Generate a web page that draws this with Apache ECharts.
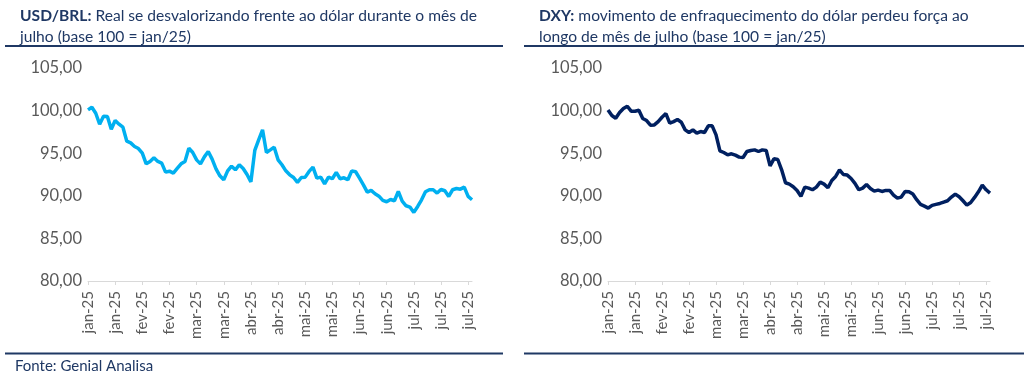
<!DOCTYPE html>
<html>
<head>
<meta charset="utf-8">
<script src="https://cdn.jsdelivr.net/npm/echarts@6/dist/echarts.min.js"></script>
<style>
    html, body { margin: 0; padding: 0; background: #fff; }
    #chart { width: 1024px; height: 376px; }
</style>
</head>
<body>
<div id="chart"></div>
<script>
// rótulos do eixo x (um a cada 7 pontos)
var tickLabels = ['jan-25', 'jan-25', 'fev-25', 'fev-25', 'mar-25', 'mar-25', 'abr-25', 'abr-25',
    'mai-25', 'mai-25', 'jun-25', 'jun-25', 'jul-25', 'jul-25', 'jul-25'];

// USD/BRL base 100 = jan/25
var usdBrl = [100.08, 100.39, 99.69, 98.40, 99.34, 99.30, 97.82, 98.83, 98.40, 98.05,
    96.41, 96.21, 95.79, 95.55, 95.00, 93.75, 94.03, 94.46, 94.03, 93.83,
    92.78, 92.89, 92.66, 93.21, 93.75, 94.03, 95.59, 95.08, 94.22, 93.75,
    94.57, 95.20, 94.30, 93.17, 92.35, 91.88, 92.93, 93.48, 93.05, 93.64,
    93.21, 92.50, 91.64, 95.32, 96.57, 97.74, 95.08, 95.39, 95.71, 94.22,
    93.64, 92.93, 92.46, 92.15, 91.57, 92.15, 92.19, 92.86, 93.36, 92.07,
    92.19, 91.41, 92.19, 92.00, 92.74, 92.00, 92.11, 91.88, 92.93, 92.82,
    92.07, 91.29, 90.43, 90.63, 90.24, 89.96, 89.46, 89.30, 89.57, 89.42,
    90.51, 89.38, 88.83, 88.68, 88.05, 88.75, 89.53, 90.47, 90.71, 90.71,
    90.32, 90.74, 90.59, 89.93, 90.71, 90.86, 90.78, 91.02, 89.93, 89.54];

// DXY base 100 = jan/25
var dxy = [100.08, 99.42, 99.11, 99.77, 100.24, 100.51, 99.93, 99.93, 100.04, 99.07,
    98.83, 98.29, 98.32, 98.71, 99.22, 99.65, 98.52, 98.71, 98.95, 98.64,
    97.74, 97.43, 97.74, 97.35, 97.54, 97.43, 98.21, 98.21, 97.15, 95.28,
    95.08, 94.81, 94.93, 94.77, 94.54, 94.50, 95.20, 95.32, 95.39, 95.20,
    95.39, 95.32, 93.52, 94.34, 94.26, 93.05, 91.53, 91.37, 91.06, 90.63,
    89.93, 91.02, 90.90, 90.71, 91.02, 91.60, 91.37, 90.94, 91.80, 92.27,
    93.05, 92.50, 92.43, 92.03, 91.45, 90.71, 90.90, 91.33, 90.86, 90.55,
    90.67, 90.51, 90.63, 90.63, 90.08, 89.73, 89.85, 90.51, 90.47, 90.20,
    89.54, 88.99, 88.79, 88.56, 88.87, 88.99, 89.10, 89.26, 89.42, 89.85,
    90.20, 89.89, 89.42, 88.91, 89.22, 89.81, 90.47, 91.25, 90.71, 90.32];

var navy = '#1F3864';
var fontName = 'Lato';

// categorias: só os pontos de tick recebem rótulo
var categories = [];
for (var i = 0; i < usdBrl.length; i++) {
    categories.push(i % 7 === 0 ? tickLabels[i / 7] : '');
}

function xAxisOf(gridIndex) {
    return {
        type : 'category',
        gridIndex : gridIndex,
        data : categories,
        boundaryGap : false,
        axisLine : { lineStyle : { color : '#d9d9d9', width : 1 } },
        axisTick : { interval : 6, length : 4, lineStyle : { color : '#d9d9d9' } },
        axisLabel : {
            interval : 6,
            rotate : 90,
            margin : 10,
            color : '#595959',
            fontSize : 15,
            fontFamily : fontName
        }
    };
}

function yAxisOf(gridIndex) {
    return {
        type : 'value',
        gridIndex : gridIndex,
        min : 80,
        max : 105,
        interval : 5,
        splitLine : { show : false },
        axisLine : { show : false },
        axisTick : { show : false },
        axisLabel : {
            margin : 6,
            color : '#595959',
            fontSize : 16.5,
            fontFamily : fontName,
            formatter : function(v) {
                return v.toFixed(2).replace('.', ',');
            }
        }
    };
}

var titleStyle = {
    color : navy,
    fontSize : 15.6,
    fontWeight : 'normal',
    fontFamily : fontName,
    lineHeight : 21,
    rich : {
        b : { fontWeight : 'bold', color : navy, fontSize : 15.6, fontFamily : fontName, lineHeight : 21 }
    }
};

var chart = echarts.init(document.getElementById('chart'));
chart.setOption({
    animation : false,
    title : [ {
        left : 15,
        top : 0,
        padding : 5,
        text : '{b|USD/BRL:} Real se desvalorizando frente ao dólar durante o mês de\njulho (base 100 = jan/25)',
        textStyle : titleStyle
    }, {
        left : 534,
        top : 0,
        padding : 5,
        text : '{b|DXY:} movimento de enfraquecimento do dólar perdeu força ao\nlongo de mês de julho (base 100 = jan/25)',
        textStyle : titleStyle
    } ],
    grid : [
        { left : 88, width : 384, top : 68, height : 213 },
        { left : 608, width : 382, top : 68, height : 213 }
    ],
    xAxis : [ xAxisOf(0), xAxisOf(1) ],
    yAxis : [ yAxisOf(0), yAxisOf(1) ],
    series : [ {
        name : 'USD/BRL',
        type : 'line',
        xAxisIndex : 0,
        yAxisIndex : 0,
        data : usdBrl,
        showSymbol : false,
        lineStyle : { color : '#00B0F0', width : 3.5 }
    }, {
        name : 'DXY',
        type : 'line',
        xAxisIndex : 1,
        yAxisIndex : 1,
        data : dxy,
        showSymbol : false,
        lineStyle : { color : '#002060', width : 3.5 }
    } ],
    graphic : [
        { type : 'line', shape : { x1 : 5, y1 : 46, x2 : 503, y2 : 46 }, style : { stroke : navy, lineWidth : 2 } },
        { type : 'line', shape : { x1 : 524, y1 : 46, x2 : 1024, y2 : 46 }, style : { stroke : navy, lineWidth : 2 } },
        { type : 'line', shape : { x1 : 5, y1 : 353.5, x2 : 503, y2 : 353.5 }, style : { stroke : navy, lineWidth : 2 } },
        { type : 'line', shape : { x1 : 524, y1 : 353.5, x2 : 1024, y2 : 353.5 }, style : { stroke : navy, lineWidth : 2 } },
        {
            type : 'text',
            left : 15,
            top : 359,
            style : { text : 'Fonte: Genial Analisa', fill : navy, fontSize : 15, fontFamily : fontName }
        }
    ]
});
</script>
</body>
</html>
